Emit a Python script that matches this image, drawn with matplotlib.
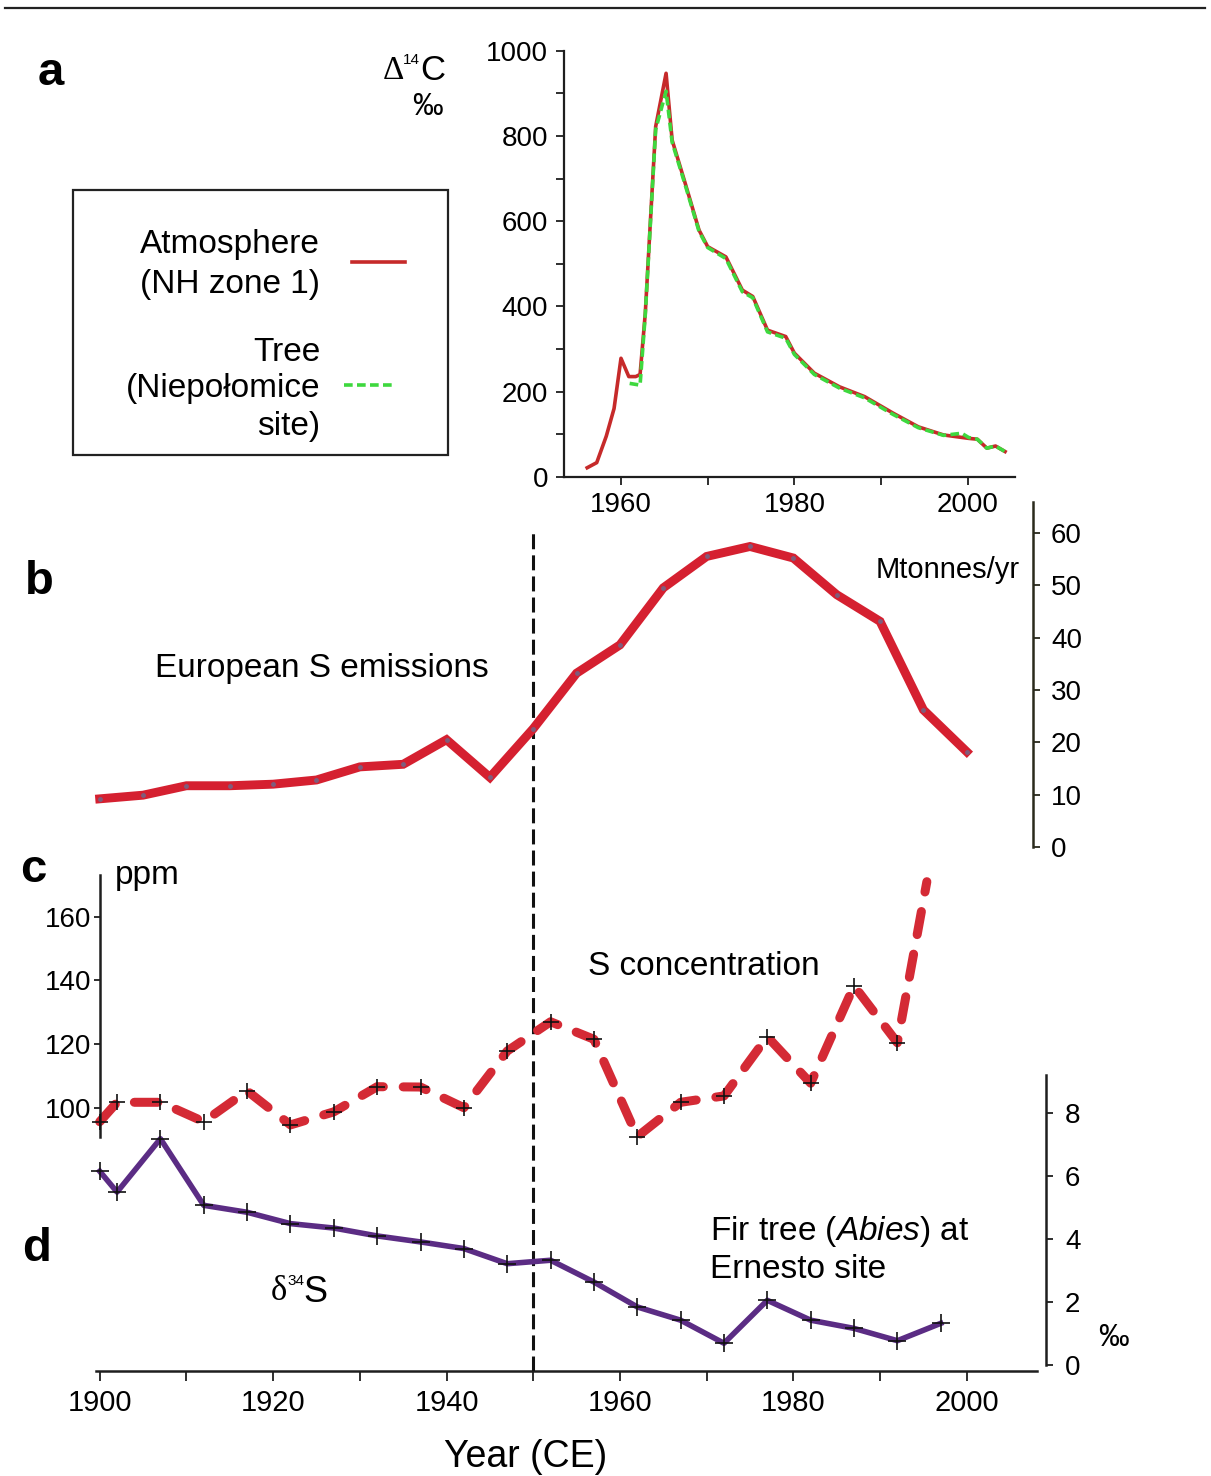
import numpy as np
import matplotlib
matplotlib.use('Agg')
import matplotlib.pyplot as plt
from matplotlib.patches import Rectangle
from matplotlib.lines import Line2D

plt.rcParams['font.family'] = ['Liberation Sans', 'DejaVu Sans']
plt.rcParams['mathtext.fontset'] = 'custom'
plt.rcParams['mathtext.rm'] = 'Liberation Sans'
plt.rcParams['mathtext.it'] = 'Liberation Sans:italic'

# a - radiocarbon in atmosphere and tree rings
atm_years = [1956.1, 1957.2, 1958.3, 1959.2, 1960.0, 1960.9, 1961.7, 1962.2, 1962.8, 1964.0,
             1965.2, 1965.9, 1967.3, 1969.0, 1970.0, 1972.1, 1974.0, 1975.2, 1976.9, 1979.0,
             1980.0, 1982.3, 1985.2, 1988.1, 1991.4, 1994.3, 1997.2, 2000.1, 2001.1, 2002.2,
             2003.2, 2004.3]
atm_d14c = [21, 33, 95, 160, 278, 235, 235, 240, 383, 822,
            947, 790, 696, 579, 540, 516, 438, 423, 344, 329,
            290, 243, 211, 188, 149, 117, 98, 90, 88, 67,
            72, 59]
tree_years = [1961.0, 1962.2, 1962.8, 1964.0, 1965.2, 1965.9, 1967.3, 1969.0, 1970.0, 1972.1,
              1974.0, 1975.2, 1976.9, 1979.0, 1980.0, 1982.3, 1985.2, 1988.1, 1991.4, 1994.3,
              1997.2, 1999.3, 2000.1, 2001.1, 2002.2, 2003.2, 2004.3]
tree_d14c = [219, 215, 380, 815, 905, 785, 692, 576, 538, 512,
             434, 420, 340, 325, 287, 240, 208, 185, 146, 115,
             97, 102, 92, 88, 67, 72, 59]

# b - European S emissions (Mtonnes/yr)
emis_years = list(range(1900, 2001, 5))
emis_mt = [9.2, 9.9, 11.7, 11.7, 12.0, 12.8, 15.3, 15.8, 20.5, 13.3, 22.6,
           33.2, 38.6, 49.5, 55.5, 57.4, 55.2, 48.2, 43.1, 26.2, 18.2]

# c - S concentration (ppm)
conc_years = [1900, 1902, 1907, 1912, 1917, 1922, 1927, 1932, 1937, 1942, 1947,
              1952, 1957, 1962, 1967, 1972, 1977, 1982, 1987, 1992]
conc_ppm = [95.6, 101.7, 101.7, 95.6, 105.3, 94.6, 98.7, 106.6, 106.5, 100.0, 117.8,
            127.0, 121.5, 90.9, 101.7, 103.7, 122.3, 107.7, 138.3, 120.4]
conc_end_year = 1995.4
conc_end_ppm = 171

# d - d34S of fir tree (permil)
d34s_years = [1900, 1902, 1907, 1912, 1917, 1922, 1927, 1932, 1937, 1942, 1947,
              1952, 1957, 1962, 1967, 1972, 1977, 1982, 1987, 1992, 1997]
d34s_vals = [6.14, 5.48, 7.17, 5.06, 4.84, 4.48, 4.34, 4.09, 3.90, 3.69, 3.21,
             3.32, 2.63, 1.84, 1.42, 0.69, 2.05, 1.42, 1.16, 0.77, 1.32]

W, H = 1211, 1476
fig = plt.figure(figsize=(W / 100, H / 100), dpi=100)


def box(x0, y0, x1, y1):
    return [x0 / W, 1 - y1 / H, (x1 - x0) / W, (y1 - y0) / H]


def fx(x):
    return x / W


def fy(y):
    return 1 - y / H


TS = 20
spine_c = '#1e1e1e'
green_dash = (2.4, 1.2)

# ---- panel a
ax_a = fig.add_axes(box(563.6, 50.7, 1014.6, 476.7))
ax_a.plot(atm_years, atm_d14c, color='#c62a2a', lw=2.6, zorder=2)
ax_a.plot(tree_years, tree_d14c, color='#3ed83e', lw=2.6, dashes=green_dash, zorder=3)
ax_a.set_xlim(1953.38, 2005.4)
ax_a.set_ylim(0, 1000)
ax_a.spines[['top', 'right']].set_visible(False)
for s in ['left', 'bottom']:
    ax_a.spines[s].set_linewidth(1.6)
    ax_a.spines[s].set_color(spine_c)
ax_a.set_yticks(range(0, 1001, 200))
ax_a.set_yticks(range(100, 1000, 200), minor=True)
ax_a.set_xticks([1960, 1980, 2000])
ax_a.set_xticks([1970, 1990], minor=True)
ax_a.tick_params(which='both', length=6, width=1.3, labelsize=TS, pad=5, color=spine_c)

# ---- base axes with shared year axis
ax_base = fig.add_axes(box(95.9, 502, 1036.7, 1370.7))
ax_base.set_xlim(1899.56, 2008.07)
ax_base.set_ylim(0, 1)
ax_base.patch.set_alpha(0)
ax_base.spines[['top', 'right', 'left']].set_visible(False)
ax_base.spines['bottom'].set_linewidth(1.8)
ax_base.spines['bottom'].set_color(spine_c)
ax_base.set_yticks([])
ax_base.set_xticks(range(1900, 2001, 20))
ax_base.set_xticks(range(1910, 2001, 20), minor=True)
ax_base.tick_params(which='both', length=7, width=1.3, labelsize=21, pad=6, color=spine_c)
ax_base.axvline(1950, ymin=0, ymax=(1370.7 - 530) / (1370.7 - 502), color='#111111',
                lw=2.2, dashes=(4.9, 2.0), zorder=5)

# ---- panel b
ax_b = fig.add_axes(box(95.9, 502, 1036.7, 847))
ax_b.patch.set_alpha(0)
ax_b.plot(emis_years, emis_mt, color='#d52030', lw=6.4, solid_joinstyle='miter',
          marker='o', ms=2.5, mfc='#7f5c7c', mec='#7f5c7c', clip_on=False)
ax_b.set_xlim(1899.56, 2008.07)
ax_b.set_ylim(0, 65.9)
ax_b.spines[['top', 'left', 'bottom']].set_visible(False)
ax_b.spines['right'].set_position(('axes', 0.996))
ax_b.spines['right'].set_linewidth(1.8)
ax_b.spines['right'].set_color('#2a2a1c')
ax_b.yaxis.tick_right()
ax_b.set_yticks(range(0, 61, 10))
ax_b.set_xticks([])
ax_b.tick_params(axis='y', length=5, width=1.3, labelsize=TS, pad=8, color='#2a2a1c')

# ---- panel c
ax_c = fig.add_axes(box(95.9, 875, 1036.7, 1137))
ax_c.patch.set_alpha(0)
ax_c.plot(conc_years + [conc_end_year], conc_ppm + [conc_end_ppm], color='#d42a35', lw=6.5,
          dashes=(2.6, 2.2), dash_capstyle='round', clip_on=False, zorder=2)
ax_c.plot(conc_years, conc_ppm, ls='none', marker='+', ms=12, mew=1.2, color='#111111',
          clip_on=False, zorder=3)
ax_c.set_xlim(1899.56, 2008.07)
ax_c.set_ylim(90.8, 173.1)
ax_c.spines[['top', 'right', 'bottom']].set_visible(False)
ax_c.spines['left'].set_position(('data', 1900))
ax_c.spines['left'].set_linewidth(1.8)
ax_c.spines['left'].set_color(spine_c)
ax_c.set_yticks([100, 120, 140, 160])
ax_c.set_xticks([])
ax_c.tick_params(axis='y', length=4, width=1.3, labelsize=TS, pad=2, color=spine_c)

# ---- panel d
ax_d = fig.add_axes(box(95.9, 1075, 1036.7, 1365))
ax_d.patch.set_alpha(0)
ax_d.plot(d34s_years, d34s_vals, color='#5b2c84', lw=4, clip_on=False, zorder=2)
ax_d.plot(d34s_years, d34s_vals, ls='none', marker='+', ms=13, mew=1.2, color='#111111',
          clip_on=False, zorder=3)
ax_d.set_xlim(1899.56, 2008.07)
ax_d.set_ylim(0, 9.19)
ax_d.spines[['top', 'left', 'bottom']].set_visible(False)
ax_d.spines['right'].set_position(('axes', 1.0095))
ax_d.spines['right'].set_linewidth(1.8)
ax_d.spines['right'].set_color(spine_c)
ax_d.yaxis.tick_right()
ax_d.set_yticks(range(0, 9, 2))
ax_d.set_xticks([])
ax_d.tick_params(axis='y', length=5, width=1.3, labelsize=TS, pad=9, color=spine_c)

# ---- figure texts
fig.add_artist(Line2D([fx(5), fx(1205)], [fy(8), fy(8)], color='#222222', lw=1.6))

for lab, x, y in [('a', 38, 85), ('b', 25, 594), ('c', 20, 882), ('d', 22, 1261)]:
    fig.text(fx(x), fy(y), lab, fontsize=34, fontweight='bold', va='baseline')

# axis unit labels of panel a
fig.text(fx(383), fy(79), 'Δ', fontsize=24, family='Liberation Serif', va='baseline')
fig.text(fx(403), fy(64), '14', fontsize=11, va='baseline')
fig.text(fx(420), fy(80), 'C', fontsize=25, va='baseline')
fig.text(fx(427), fy(107), '‰', fontsize=22, ha='center', va='center')

# legend box of panel a
fig.add_artist(Rectangle((fx(73), fy(455)), fx(448) - fx(73), fy(190) - fy(455),
                         transform=fig.transFigure, fill=False, ec='#222222', lw=1.6))
for txt, y in [('Atmosphere', 253), ('(NH zone 1)', 293), ('Tree', 361),
               ('(Niepołomice', 397), ('site)', 435)]:
    fig.text(fx(320), fy(y), txt, fontsize=24, ha='right', va='baseline')
fig.add_artist(Line2D([fx(352), fx(405)], [fy(262), fy(262)], color='#c62a2a', lw=2.6))
fig.add_artist(Line2D([fx(344), fx(393)], [fy(385), fy(385)], color='#3ed83e', lw=2.6,
                      dashes=green_dash))

fig.text(fx(1020), fy(578), 'Mtonnes/yr', fontsize=21, ha='right', va='baseline')
fig.text(fx(155), fy(677), 'European S emissions', fontsize=24, va='baseline')
fig.text(fx(115), fy(884), 'ppm', fontsize=24, va='baseline')
fig.text(fx(588), fy(975), 'S concentration', fontsize=24, va='baseline')
fig.text(fx(710), fy(1240), r'Fir tree ($\mathit{Abies}$) at', fontsize=24, va='baseline')
fig.text(fx(710), fy(1278), 'Ernesto site', fontsize=24, va='baseline')

fig.text(fx(271), fy(1300), 'δ', fontsize=25, family='Liberation Serif', va='baseline')
fig.text(fx(287), fy(1285), '34', fontsize=11, va='baseline')
fig.text(fx(303), fy(1302), 'S', fontsize=26, va='baseline')
fig.text(fx(1113), fy(1338), '‰', fontsize=22, ha='center', va='center')

fig.text(fx(526), fy(1467), 'Year (CE)', fontsize=27, ha='center', va='baseline')

fig.savefig('out.png', dpi=100)
